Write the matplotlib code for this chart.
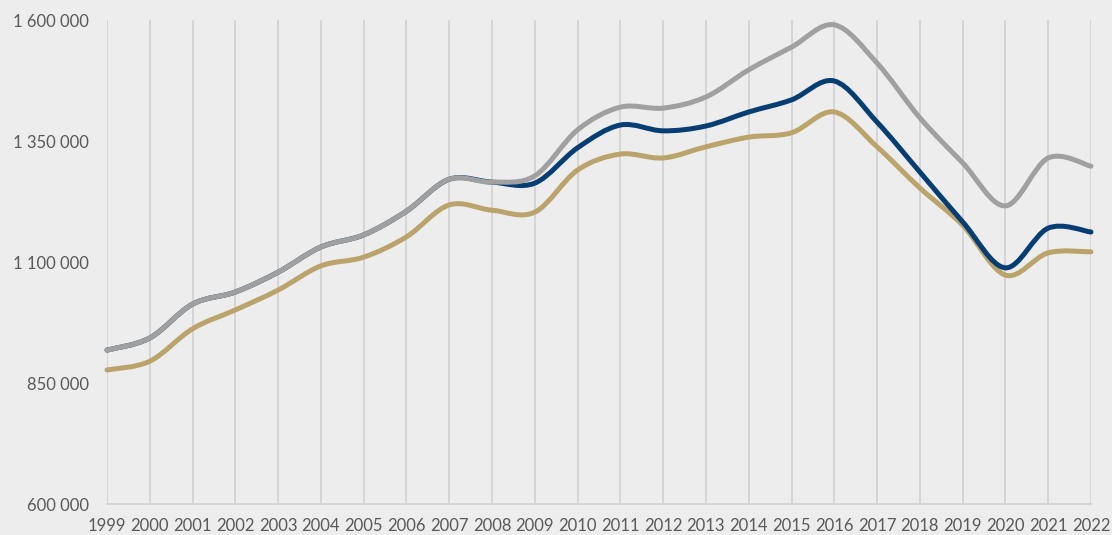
import numpy as np
import matplotlib
matplotlib.use("Agg")
import matplotlib.pyplot as plt
from matplotlib.path import Path
from matplotlib.patches import PathPatch
from matplotlib.ticker import FuncFormatter

# donnees
annees = list(range(1999, 2023))

serie_grise = [918000, 943000, 1013000, 1038000, 1079000, 1131000, 1156000, 1205000,
               1271000, 1265000, 1278000, 1373000, 1420000, 1418000, 1441000, 1497000,
               1544000, 1590000, 1511000, 1398000, 1305000, 1216000, 1315000, 1298000]

serie_bleue = [918000, 943000, 1013000, 1038000, 1079000, 1131000, 1156000, 1205000,
               1271000, 1265000, 1263000, 1336000, 1383000, 1371000, 1381000, 1410000,
               1435000, 1474000, 1389000, 1286000, 1183000, 1088000, 1170000, 1162000]

serie_or = [877000, 895000, 962000, 1001000, 1042000, 1092000, 1110000, 1152000,
            1218000, 1207000, 1203000, 1290000, 1323000, 1315000, 1338000, 1358000,
            1367000, 1410000, 1338000, 1253000, 1176000, 1073000, 1119000, 1121000]

y_ticks = [600000, 850000, 1100000, 1350000, 1600000]


def courbe_lissee(x, y):
    # courbe de Bezier type Catmull-Rom (lissage comme dans Excel)
    pts = np.column_stack([x, y]).astype(float)
    verts = [pts[0]]
    codes = [Path.MOVETO]
    n = len(pts)
    for i in range(n - 1):
        p0 = pts[i - 1] if i > 0 else pts[i]
        p1 = pts[i]
        p2 = pts[i + 1]
        p3 = pts[i + 2] if i + 2 < n else pts[i + 1]
        c1 = p1 + (p2 - p0) / 6.0
        c2 = p2 - (p3 - p1) / 6.0
        verts += [c1, c2, p2]
        codes += [Path.CURVE4] * 3
    return Path(verts, codes)


fond = "#ededed"
fig = plt.figure(figsize=(11.12, 5.35), dpi=100, facecolor=fond)
ax = fig.add_axes([0.0962, 0.0579, 0.8849, 0.9047])
ax.set_facecolor(fond)

for serie, couleur in [(serie_or, "#bba46b"), (serie_bleue, "#063d73"), (serie_grise, "#a0a0a0")]:
    patch = PathPatch(courbe_lissee(annees, serie), facecolor="none", edgecolor=couleur,
                      lw=3.6, capstyle="round", joinstyle="round", clip_on=False)
    ax.add_patch(patch)

ax.set_xlim(1999, 2022)
ax.set_ylim(600000, 1600000)
ax.set_xticks(annees)
ax.set_yticks(y_ticks)
ax.yaxis.set_major_formatter(FuncFormatter(lambda v, p: f"{v:,.0f}".replace(",", " ")))

ax.grid(axis="x", color="#d3d3d3", lw=1.3)
ax.set_axisbelow(True)
for s in ["top", "right", "left"]:
    ax.spines[s].set_visible(False)
ax.spines["bottom"].set_color("#d3d3d3")
ax.spines["bottom"].set_linewidth(1.3)

ax.tick_params(axis="both", length=0, labelsize=12, labelcolor="#595959")
ax.tick_params(axis="y", pad=13)
ax.tick_params(axis="x", pad=10)
for lab in ax.get_xticklabels() + ax.get_yticklabels():
    lab.set_fontfamily("Lato")

fig.savefig("out.png", dpi=100, facecolor=fond)
